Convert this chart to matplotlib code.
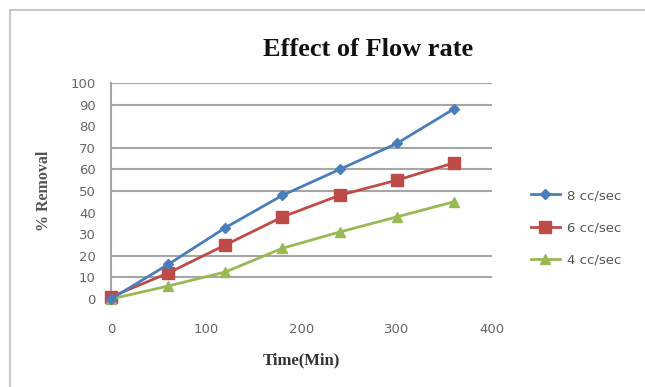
import matplotlib.pyplot as plt
from matplotlib.patches import Rectangle

# data
time_min = [0, 60, 120, 180, 240, 300, 360]
rate_8 = [0, 16, 33, 48, 60, 72, 88]
rate_6 = [1, 12, 25, 38, 48, 55, 63]
rate_4 = [0, 6, 12.5, 23.5, 31, 38, 45]
grid_vals = [10, 20, 50, 60, 70, 90, 100]
yticks = list(range(0, 101, 10))
xticks = [0, 100, 200, 300, 400]

fig = plt.figure(figsize=(6.45, 3.87), dpi=100)
fig.patches.append(Rectangle((10 / 645, -0.1), 1.2, 1.1 - 10 / 387,
                             transform=fig.transFigure, fill=False,
                             edgecolor='#c8c8c8', lw=1.5))

ax = fig.add_axes([111 / 645, 88 / 387, 381 / 645, 216 / 387])

for g in grid_vals:
    ax.axhline(g, color='#a6a6a6', lw=1.5, zorder=1)

ax.plot(time_min, rate_8, color='#4a7ebb', marker='D', ms=5, lw=2,
        label='8 cc/sec', clip_on=False, zorder=4)
ax.plot(time_min, rate_6, color='#be4b48', marker='s', ms=8, lw=2,
        label='6 cc/sec', clip_on=False, zorder=3)
ax.plot(time_min, rate_4, color='#98b954', marker='^', ms=7, lw=2,
        label='4 cc/sec', clip_on=False, zorder=3)

ax.set_xlim(0, 400)
ax.set_ylim(0, 100)
ax.set_xticks(xticks)
ax.set_yticks(yticks)
ax.tick_params(axis='both', length=0, labelsize=9.5, labelcolor='#666666')
ax.tick_params(axis='x', pad=17)
ax.tick_params(axis='y', pad=11)
for s in ['top', 'right', 'bottom']:
    ax.spines[s].set_visible(False)
ax.spines['left'].set_color('#a6a6a6')
ax.spines['left'].set_linewidth(1.5)

ax.set_xlabel('Time(Min)', family='Liberation Serif', fontweight='bold',
              fontsize=12, color='#333333', labelpad=12)
ax.set_ylabel('% Removal', family='Liberation Serif', fontweight='bold',
              fontsize=11.5, color='#555555', labelpad=13)

fig.text(368 / 645, 1 - 50 / 387, 'Effect of Flow rate', family='Liberation Serif',
         fontweight='bold', fontsize=19, ha='center', va='center', color='#111111')

ax.legend(loc='center left', bbox_to_anchor=(1.07, 0.33), frameon=False,
          fontsize=9.5, labelcolor='#555555', handlelength=2.2, labelspacing=1.45,
          handletextpad=0.6)

fig.savefig('out.png', dpi=100)
